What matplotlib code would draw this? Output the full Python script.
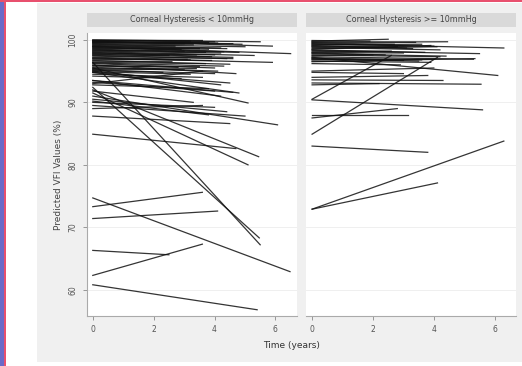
import numpy as np
import matplotlib
matplotlib.use('Agg')
import matplotlib.pyplot as plt
from matplotlib.patches import Rectangle

# panel titles
titles = ['Corneal Hysteresis < 10mmHg', 'Corneal Hysteresis >= 10mmHg']

# left panel: start value (t=0), end time, end value
low_y0 = [100.0, 99.8, 99.6, 99.5, 99.3, 99.1, 98.9, 98.7, 98.5, 98.3,
          98.1, 97.9, 97.6, 97.4, 97.1, 96.9, 96.7, 96.4, 96.2, 95.9,
          95.6, 95.3, 95.1, 94.8, 94.5, 95.5, 94.8, 93.5, 93.0, 92.4,
          96.4, 92.0, 91.5, 91.0, 90.5, 90.0, 89.5, 89.0, 87.8, 84.9,
          93.5, 92.8, 91.8, 74.7, 73.3, 71.4, 66.3, 62.3, 60.8, 99.9,
          99.7, 99.2, 98.8, 98.0, 97.2, 96.0, 95.0, 94.2, 93.2, 90.2,
          99.95, 99.75, 99.4, 99.0, 98.6, 98.4, 98.2, 97.8, 97.5, 97.0,
          96.6, 96.3, 95.8, 95.4, 95.2, 94.9, 99.85, 99.55, 98.95, 97.7]
low_t1 = [5.5, 5.9, 4.6, 3.8, 5.0, 4.2, 6.5, 3.5, 4.8, 3.0,
          5.3, 4.0, 2.5, 4.4, 5.9, 3.2, 4.5, 3.7, 4.0, 2.8,
          4.1, 3.4, 2.3, 4.5, 3.6, 5.1, 4.8, 4.2, 3.6, 5.47,
          5.5, 5.45, 5.1, 6.07, 4.4, 4.0, 5.0, 3.6, 4.5, 4.7,
          4.6, 3.8, 3.3, 6.48, 3.6, 4.1, 2.5, 3.6, 5.4, 3.2,
          4.9, 2.7, 4.3, 3.9, 3.1, 4.7, 4.2, 2.9, 4.0, 3.8,
          3.6, 4.1, 3.3, 4.4, 2.9, 3.7, 4.2, 3.4, 4.6, 3.9,
          2.6, 4.3, 3.5, 3.0, 4.0, 3.2, 4.0, 3.0, 3.8, 4.6]
low_y1 = [99.7, 99.0, 99.4, 99.6, 98.9, 98.7, 97.8, 98.6, 98.0, 98.2,
          97.5, 97.6, 97.5, 97.0, 96.4, 96.8, 96.1, 96.2, 95.5, 95.6,
          95.0, 95.4, 94.8, 93.1, 94.0, 89.9, 91.5, 91.0, 95.0, 68.3,
          67.2, 81.3, 80.0, 86.4, 88.5, 89.2, 87.8, 89.5, 86.6, 82.6,
          91.6, 92.2, 90.0, 62.9, 75.6, 72.6, 65.6, 67.3, 56.8, 99.8,
          99.3, 99.0, 98.1, 97.3, 96.9, 94.6, 92.8, 93.8, 91.8, 88.0,
          99.9, 99.5, 99.2, 98.6, 98.5, 98.0, 97.9, 97.6, 97.0, 96.7,
          96.5, 95.8, 95.7, 95.2, 94.6, 94.5, 99.7, 99.4, 98.5, 97.2]

# right panel
high_y0 = [99.8, 99.6, 99.4, 99.2, 99.0, 98.8, 98.5, 98.3, 98.0, 97.8,
           97.5, 97.3, 97.0, 96.8, 96.5, 96.2, 97.2, 95.0, 94.8, 94.0,
           93.6, 93.1, 92.8, 90.5, 90.4, 88.0, 87.5, 84.9, 83.0, 72.9,
           72.9, 99.9, 99.1, 98.6, 97.9, 97.1, 99.7, 99.5, 99.3, 98.9,
           98.4, 98.1, 97.6, 96.9, 96.6]
high_t1 = [2.5, 4.45, 6.3, 3.6, 2.8, 4.2, 3.9, 5.5, 3.0, 4.4,
           2.0, 5.3, 3.5, 4.0, 5.35, 2.9, 6.1, 4.0, 3.0, 3.8,
           4.3, 5.55, 2.2, 2.6, 5.6, 3.15, 2.8, 4.12, 3.8, 6.3,
           4.12, 1.9, 3.3, 4.1, 2.4, 3.6, 3.4, 2.7, 4.0, 3.1,
           3.7, 2.6, 4.2, 3.0, 3.9]
high_y1 = [100.1, 99.7, 98.7, 99.3, 98.9, 98.4, 99.1, 97.8, 97.9, 97.4,
           97.6, 96.9, 96.6, 96.9, 97.0, 96.0, 94.3, 95.5, 94.6, 94.3,
           93.5, 92.9, 93.0, 97.5, 88.8, 88.0, 89.0, 97.2, 82.0, 83.8,
           77.1, 99.8, 98.6, 98.9, 97.6, 96.8, 99.6, 99.3, 99.0, 98.7,
           98.0, 98.2, 97.3, 96.7, 96.4]

panels = [(low_y0, low_t1, low_y1), (high_y0, high_t1, high_y1)]

fig = plt.figure(figsize=(5.22, 3.66), dpi=100)
fig.patch.set_facecolor('white')

# background bits of the slide
fig.patches.append(Rectangle((37/522, 4/366), 485/522, 359/366, transform=fig.transFigure,
                             facecolor='#f0f0f0', edgecolor='none', zorder=-10))
fig.patches.append(Rectangle((0, 0), 4/522, 1, transform=fig.transFigure,
                             facecolor='#6a6ac8', edgecolor='none', zorder=-9))
fig.patches.append(Rectangle((4/522, 0), 1.5/522, 1, transform=fig.transFigure,
                             facecolor='#e8506e', edgecolor='none', zorder=-9))
fig.patches.append(Rectangle((0, 1 - 2/366), 1, 2/366, transform=fig.transFigure,
                             facecolor='#e8506e', edgecolor='none', zorder=-9))

lefts = [86.7/522, 306/522]
w = 210/522
bottom = 1 - 316/366
h = (316 - 33)/366

for i, (y0, t1, y1) in enumerate(panels):
    ax = fig.add_axes([lefts[i], bottom, w, h])
    ax.set_facecolor('white')
    for a, t, b in zip(y0, t1, y1):
        ax.plot([0, t], [a, b], color='#111111', lw=0.9, alpha=0.85)
    ax.set_xlim(-0.2, 6.7)
    ax.set_ylim(55.8, 101.1)
    ax.set_xticks([0, 2, 4, 6])
    ax.set_yticks([60, 70, 80, 90, 100])
    for yv in [60, 70, 80, 90, 100]:
        ax.axhline(yv, color='#ececec', lw=0.6, zorder=0)
    for s in ['top', 'right']:
        ax.spines[s].set_visible(False)
    ax.spines['bottom'].set_color('#aaaaaa')
    ax.spines['left'].set_color('#aaaaaa')
    ax.spines['bottom'].set_linewidth(0.8)
    ax.spines['left'].set_linewidth(0.8)
    ax.tick_params(colors='#888888', labelcolor='#555555', labelsize=5.5, length=3, width=0.6)
    if i == 0:
        ax.set_yticklabels(['60', '70', '80', '90', '100'], rotation=90, va='center')
        ax.set_ylabel('Predicted VFI Values (%)', fontsize=6.5, color='#444444', labelpad=4)
    else:
        ax.spines['left'].set_visible(False)
        ax.set_yticks([])
    # strip header
    ax.add_patch(Rectangle((0, 1.02), 1, 0.052, transform=ax.transAxes, clip_on=False,
                           facecolor='#d9d9d9', edgecolor='none'))
    ax.text(0.5, 1.046, titles[i], transform=ax.transAxes, ha='center', va='center',
            fontsize=5.8, color='#444444')

fig.text(292/522, 1 - 346/366, 'Time (years)', ha='center', va='center',
         fontsize=6.5, color='#333333')

fig.savefig('out.png', dpi=100)
